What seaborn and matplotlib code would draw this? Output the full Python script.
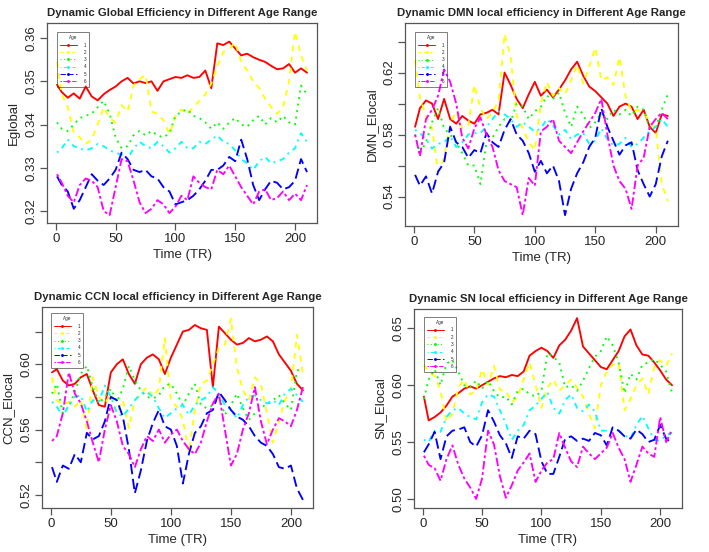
# -*- coding: utf-8 -*-
import pandas as pd
import matplotlib
matplotlib.use('Agg')
import matplotlib.pyplot as plt
from matplotlib.lines import Line2D
import seaborn as sns

# eje de tiempo (TR)
tr = [1, 5, 10, 15, 20, 25, 30, 35, 40, 45,
      50, 55, 60, 65, 70, 75, 80, 85, 90, 95,
      100, 105, 110, 115, 120, 125, 130, 135, 140, 145,
      150, 155, 160, 165, 170, 175, 180, 185, 190, 195,
      200, 205, 210]

# Eglobal por grupo de edad
glob_1 = [.3492, .3475, .3462, .3472, .3460, .3488, .3465, .3456, .3470, .3480,
          .3488, .3500, .3508, .3495, .3500, .3496, .3500, .3478, .3500, .3505,
          .3510, .3508, .3514, .3508, .3510, .3525, .3484, .3588, .3584, .3592,
          .3576, .3560, .3564, .3556, .3550, .3545, .3536, .3528, .3530, .3540,
          .3520, .3530, .3520]
glob_2 = [.3545, .3470, .3440, .3380, .3370, .3355, .3365, .3400, .3440, .3415,
          .3405, .3445, .3430, .3490, .3505, .3515, .3430, .3425, .3410, .3377,
          .3420, .3435, .3425, .3440, .3455, .3470, .3495, .3535, .3568, .3575,
          .3590, .3545, .3525, .3500, .3485, .3460, .3440, .3425, .3440, .3500,
          .3615, .3560, .3525]
glob_3 = [.3405, .3390, .3385, .3400, .3415, .3420, .3425, .3440, .3455, .3425,
          .3370, .3345, .3350, .3375, .3385, .3375, .3385, .3375, .3370, .3380,
          .3420, .3430, .3435, .3420, .3415, .3405, .3390, .3405, .3390, .3405,
          .3415, .3400, .3395, .3410, .3420, .3400, .3415, .3405, .3420, .3405,
          .3400, .3490, .3470]
glob_4 = [.3335, .3345, .3365, .3350, .3345, .3340, .3345, .3355, .3350, .3340,
          .3335, .3330, .3320, .3345, .3360, .3350, .3345, .3360, .3350, .3335,
          .3345, .3360, .3345, .3345, .3360, .3355, .3365, .3375, .3360, .3355,
          .3340, .3320, .3310, .3295, .3315, .3325, .3310, .3315, .3320, .3335,
          .3345, .3380, .3360]
glob_5 = [.3280, .3260, .3245, .3205, .3225, .3255, .3285, .3270, .3260, .3275,
          .3295, .3335, .3320, .3295, .3290, .3295, .3280, .3275, .3255, .3245,
          .3215, .3220, .3225, .3235, .3250, .3270, .3295, .3295, .3305, .3325,
          .3315, .3365, .3320, .3260, .3225, .3250, .3270, .3265, .3250, .3255,
          .3270, .3320, .3290]
glob_6 = [.3285, .3265, .3235, .3220, .3260, .3275, .3270, .3255, .3200, .3190,
          .3255, .3320, .3315, .3270, .3220, .3195, .3205, .3225, .3215, .3195,
          .3210, .3235, .3225, .3280, .3265, .3255, .3250, .3295, .3285, .3305,
          .3280, .3255, .3235, .3215, .3245, .3250, .3225, .3230, .3245, .3225,
          .3240, .3225, .3260]

# DMN Elocal
dmn_1 = [.585, .597, .602, .600, .590, .603, .590, .587, .592, .589,
         .587, .593, .594, .596, .593, .620, .612, .603, .597, .606,
         .614, .605, .609, .604, .609, .615, .622, .627, .618, .611,
         .608, .604, .600, .592, .598, .600, .598, .590, .596, .585,
         .581, .593, .592]
dmn_2 = [.628, .604, .592, .584, .556, .565, .587, .595, .584, .586,
         .612, .597, .590, .594, .602, .645, .630, .592, .584, .575,
         .570, .600, .614, .605, .610, .606, .615, .625, .613, .624,
         .636, .615, .617, .612, .630, .605, .595, .596, .594, .588,
         .584, .548, .537]
dmn_3 = [.580, .568, .575, .588, .597, .584, .580, .575, .568, .560,
         .560, .548, .575, .578, .585, .590, .588, .600, .598, .590,
         .595, .598, .605, .603, .607, .594, .585, .598, .593, .584,
         .588, .594, .590, .596, .593, .596, .592, .598, .596, .584,
         .585, .596, .606]
dmn_4 = [.583, .581, .577, .571, .574, .575, .579, .572, .575, .580,
         .581, .581, .585, .590, .595, .593, .590, .585, .588, .585,
         .582, .584, .590, .586, .580, .583, .577, .580, .581, .574,
         .576, .584, .577, .573, .574, .578, .572, .574, .578, .582,
         .585, .590, .585]
dmn_5 = [.554, .547, .553, .542, .556, .562, .585, .575, .572, .565,
         .570, .568, .581, .575, .572, .583, .590, .580, .576, .568,
         .556, .563, .555, .560, .550, .528, .545, .555, .562, .572,
         .578, .597, .585, .576, .567, .573, .575, .557, .548, .540,
         .548, .566, .576]
dmn_6 = [.580, .566, .590, .596, .605, .622, .614, .600, .578, .571,
         .584, .591, .580, .572, .557, .550, .548, .546, .528, .552,
         .547, .582, .585, .590, .576, .572, .568, .575, .582, .588,
         .594, .603, .580, .560, .550, .545, .532, .560, .565, .585,
         .590, .594, .590]

# CCN Elocal
ccn_1 = [.595, .597, .590, .587, .588, .592, .594, .584, .575, .574,
         .595, .600, .603, .594, .588, .600, .604, .606, .603, .594,
         .604, .612, .620, .621, .624, .622, .621, .586, .623, .619,
         .615, .612, .613, .616, .614, .615, .617, .614, .606, .601,
         .596, .588, .584]
ccn_2 = [.592, .578, .575, .577, .574, .578, .560, .592, .580, .576,
         .582, .570, .578, .561, .578, .582, .586, .580, .585, .616,
         .578, .574, .566, .546, .572, .588, .590, .600, .610, .612,
         .628, .598, .584, .578, .592, .588, .570, .552, .565, .578,
         .584, .618, .594]
ccn_3 = [.582, .588, .570, .574, .583, .594, .599, .586, .576, .580,
         .585, .577, .585, .599, .590, .584, .580, .579, .581, .587,
         .588, .582, .575, .582, .588, .575, .573, .575, .580, .569,
         .575, .582, .573, .566, .570, .574, .575, .578, .581, .576,
         .572, .596, .598]
ccn_4 = [.577, .574, .568, .575, .580, .581, .571, .578, .577, .587,
         .580, .570, .568, .573, .578, .582, .583, .580, .573, .567,
         .570, .573, .575, .569, .575, .578, .580, .586, .582, .575,
         .572, .567, .575, .580, .581, .578, .576, .578, .575, .582,
         .585, .581, .577]
ccn_5 = [.537, .528, .538, .536, .545, .540, .558, .554, .556, .565,
         .580, .578, .568, .548, .521, .535, .553, .564, .572, .562,
         .560, .550, .527, .545, .558, .562, .570, .572, .583, .578,
         .572, .568, .566, .562, .556, .552, .550, .545, .537, .536,
         .538, .524, .517]
ccn_6 = [.553, .556, .570, .595, .582, .576, .565, .552, .540, .560,
         .575, .565, .550, .545, .537, .548, .556, .553, .560, .552,
         .557, .560, .553, .548, .545, .552, .565, .576, .582, .560,
         .538, .545, .560, .570, .586, .565, .551, .560, .567, .565,
         .562, .572, .586]

# SN Elocal
sn_1 = [.590, .569, .572, .576, .582, .590, .593, .597, .599, .597,
        .600, .603, .606, .608, .607, .609, .608, .612, .626, .630,
        .633, .630, .624, .635, .640, .648, .659, .634, .628, .622,
        .616, .614, .622, .630, .643, .649, .635, .627, .626, .620,
        .613, .605, .600]
sn_2 = [.618, .612, .608, .595, .568, .575, .598, .605, .592, .595,
        .614, .600, .617, .596, .595, .585, .590, .605, .620, .600,
        .580, .598, .605, .595, .600, .605, .598, .590, .575, .562,
        .600, .612, .618, .620, .578, .588, .600, .606, .592, .616,
        .622, .617, .628]
sn_3 = [.588, .605, .614, .600, .619, .622, .612, .600, .598, .604,
        .597, .604, .595, .589, .590, .583, .595, .597, .592, .590,
        .595, .628, .625, .620, .598, .600, .595, .604, .615, .625,
        .630, .643, .635, .620, .593, .610, .605, .618, .620, .623,
        .618, .612, .593]
sn_4 = [.552, .550, .560, .559, .572, .578, .580, .575, .572, .570,
        .585, .592, .590, .578, .566, .552, .560, .565, .578, .582,
        .588, .594, .580, .575, .587, .592, .580, .577, .583, .577,
        .560, .560, .562, .560, .556, .553, .565, .573, .562, .552,
        .551, .556, .558]
sn_5 = [.541, .548, .559, .535, .555, .560, .561, .563, .550, .546,
        .556, .578, .568, .556, .549, .536, .555, .553, .560, .557,
        .533, .522, .522, .537, .553, .555, .551, .553, .551, .558,
        .556, .547, .563, .560, .555, .553, .561, .557, .550, .552,
        .565, .553, .549]
sn_6 = [.538, .530, .527, .516, .535, .547, .530, .518, .510, .500,
        .518, .560, .548, .520, .501, .512, .525, .532, .540, .515,
        .525, .532, .535, .558, .545, .533, .528, .546, .540, .535,
        .540, .545, .558, .545, .535, .515, .530, .546, .540, .537,
        .572, .550, .561]

ages = ['1', '2', '3', '4', '5', '6']
ticks_x = [0, 50, 100, 150, 200]

# colores tipo rainbow(6) de R y tipos de linea lty 1..6
colores = dict(zip(ages, ['#FF0000', '#FFFF00', '#00FF00',
                          '#00FFFF', '#0000FF', '#FF00FF']))
guiones = {'1': '', '2': (3, 3), '3': (1, 2.5), '4': (1, 2.5, 3, 2.5),
           '5': (5.5, 2.5), '6': (1.5, 1.5, 4.5, 1.5)}

sns.set_style('white')
plt.rcParams['font.family'] = ['Liberation Sans', 'DejaVu Sans']
gris = '#555555'


def panel(fig, rect, series, title, ylabel, ylim, yticks, ylabels, leg_pos):
    ax = fig.add_axes(rect)
    # tabla larga para seaborn
    df = pd.concat([pd.DataFrame({'TR': tr, 'val': s, 'Age': a})
                    for a, s in zip(ages, series)], ignore_index=True)
    sns.lineplot(data=df, x='TR', y='val', hue='Age', style='Age',
                 palette=colores, dashes=guiones, linewidth=1.35,
                 legend=False, ax=ax, estimator=None, sort=False)
    ax.set_xlim(-7.36, 218.36)
    ax.set_ylim(*ylim)
    ax.set_xticks(ticks_x)
    ax.set_xticklabels([str(t) for t in ticks_x], fontsize=9.5)
    ax.set_yticks(yticks)
    ax.set_yticklabels(ylabels, rotation=90, va='center', fontsize=9.5)
    ax.set_title(title, fontsize=8.2, fontweight='bold', pad=5)
    ax.set_xlabel('Time (TR)', fontsize=9.5, labelpad=3)
    ax.set_ylabel(ylabel, fontsize=9.5, labelpad=4)
    for sp in ax.spines.values():
        sp.set_color(gris)
        sp.set_linewidth(0.9)
    ax.tick_params(direction='out', length=5, width=0.9, color=gris,
                   left=True, bottom=True, pad=2)
    ax.grid(False)

    # leyenda pequeña estilo R
    handles = [Line2D([0], [0], color=colores[a], lw=0.7,
                      dashes=guiones[a] if guiones[a] else (None, None),
                      marker='o', markersize=1.1) for a in ages]
    leg = ax.legend(handles, ages, title='Age', loc='upper left',
                    bbox_to_anchor=leg_pos, borderaxespad=0,
                    fontsize=3.3, title_fontsize=3.3, fancybox=False,
                    handlelength=3.6, handletextpad=1.5, labelspacing=0.5,
                    borderpad=0.7, frameon=True)
    leg.get_frame().set_edgecolor('#444444')
    leg.get_frame().set_linewidth(0.6)
    leg.get_frame().set_facecolor('none')
    return ax


fig = plt.figure(figsize=(7.09, 5.52), dpi=100)

panel(fig, [0.0663, 0.596, 0.3808, 0.3623],
      [glob_1, glob_2, glob_3, glob_4, glob_5, glob_6],
      'Dynamic Global Efficiency in Different Age Range', 'Eglobal',
      (0.3172, 0.3635), [0.32, 0.33, 0.34, 0.35, 0.36],
      ['0.32', '0.33', '0.34', '0.35', '0.36'], (0.037, 0.955))

panel(fig, [0.5712, 0.5906, 0.385, 0.3678],
      [dmn_1, dmn_2, dmn_3, dmn_4, dmn_5, dmn_6],
      'Dynamic DMN local efficiency in Different Age Range', 'DMN_Elocal',
      (0.521, 0.652), [0.54, 0.56, 0.58, 0.60, 0.62, 0.64],
      ['0.54', '', '0.58', '', '0.62', ''], (0.037, 0.955))

panel(fig, [0.0592, 0.0797, 0.3822, 0.3641],
      [ccn_1, ccn_2, ccn_3, ccn_4, ccn_5, ccn_6],
      'Dynamic CCN local efficiency in Different Age Range', 'CCN_Elocal',
      (0.512, 0.635), [0.52, 0.54, 0.56, 0.58, 0.60, 0.62],
      ['0.52', '', '0.56', '', '0.60', ''], (0.033, 0.97))

panel(fig, [0.5839, 0.0797, 0.378, 0.3605],
      [sn_1, sn_2, sn_3, sn_4, sn_5, sn_6],
      'Dynamic SN local efficiency in Different Age Range', 'SN_Elocal',
      (0.492, 0.667), [0.50, 0.55, 0.60, 0.65],
      ['0.50', '0.55', '0.60', '0.65'], (0.037, 0.96))

fig.savefig('out.png', dpi=100)
plt.close(fig)
